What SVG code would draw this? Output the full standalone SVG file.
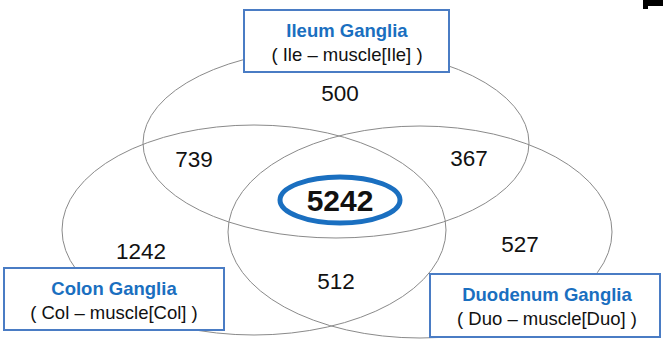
<svg xmlns="http://www.w3.org/2000/svg" width="663" height="347" viewBox="0 0 663 347">
<style>
.set{fill:none;stroke:#8a8a8a;stroke-width:1}
.box{fill:#fff;stroke:#4a7cc4;stroke-width:2}
.title{font-family:"Liberation Sans",Arial,sans-serif;font-weight:bold;font-size:18.5px;fill:#1a6fc0;text-anchor:middle}
.sub{font-family:"Liberation Sans",Arial,sans-serif;font-size:18.5px;fill:#111;text-anchor:middle}
.num{font-family:"Liberation Sans",Arial,sans-serif;font-size:22.5px;fill:#111;text-anchor:middle}
.big{font-family:"Liberation Sans",Arial,sans-serif;font-size:30px;font-weight:bold;fill:#111;text-anchor:middle}
</style>
<rect width="663" height="347" fill="#fff"/>
<path d="M643 0H663V6H648V9H643Z" fill="#000"/>
<g id="sets">
<ellipse id="set-ileum" class="set" cx="336" cy="143" rx="193" ry="95"/>
<ellipse id="set-colon" class="set" cx="254" cy="230" rx="192" ry="105"/>
<ellipse id="set-duodenum" class="set" cx="420" cy="232" rx="192" ry="106"/>
</g>
<g id="counts">
<text class="num" x="340" y="101">500</text>
<text class="num" x="194" y="167">739</text>
<text class="num" x="469" y="166">367</text>
<text class="num" x="141" y="259">1242</text>
<text class="num" x="520" y="252">527</text>
<text class="num" x="336" y="289">512</text>
</g>
<g id="center">
<ellipse cx="340" cy="200" rx="60" ry="23" fill="none" stroke="#1a6fc0" stroke-width="5"/>
<text class="big" x="340" y="211">5242</text>
</g>
<g id="ileum">
<rect class="box" x="244" y="10" width="205" height="62"/>
<text class="title" x="347" y="37">Ileum Ganglia</text>
<text class="sub" x="347" y="61">( Ile – muscle[Ile] )</text>
</g>
<g id="colon">
<rect class="box" x="4" y="268" width="220" height="62"/>
<text class="title" x="114" y="295">Colon Ganglia</text>
<text class="sub" x="114" y="319">( Col – muscle[Col] )</text>
</g>
<g id="duodenum">
<rect class="box" x="430" y="274" width="230" height="63"/>
<text class="title" x="547" y="301">Duodenum Ganglia</text>
<text class="sub" x="547" y="325">( Duo – muscle[Duo] )</text>
</g>
</svg>
